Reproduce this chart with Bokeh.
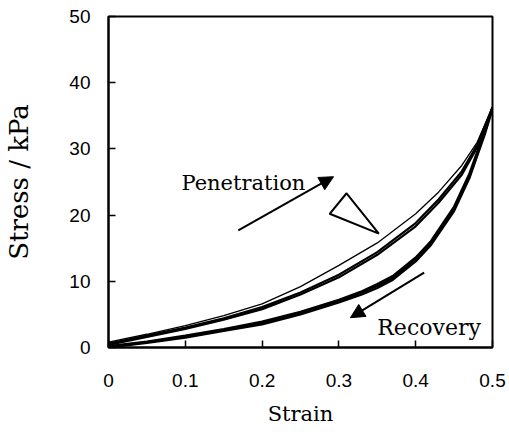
from bokeh.plotting import figure
from bokeh.models import Range1d, Label, Arrow, NormalHead, FixedTicker
from bokeh.embed import file_html
from bokeh.resources import INLINE

SERIF = "DejaVu Serif"

# Loading (penetration) curves
strain_load = [0, 0.05, 0.1, 0.15, 0.2, 0.25, 0.3, 0.35, 0.4, 0.43, 0.46, 0.48, 0.5]
stress_load1 = [0.8, 2.0, 3.3, 4.8, 6.6, 9.2, 12.4, 15.8, 20.2, 23.5, 27.5, 31.0, 36.3]
stress_load2 = [0.6, 1.8, 3.0, 4.4, 6.1, 8.3, 11.0, 14.4, 18.8, 22.4, 26.6, 30.6, 36.3]
stress_load3 = [0.4, 1.6, 2.8, 4.2, 5.8, 8.0, 10.6, 14.0, 18.3, 21.9, 26.1, 30.2, 36.1]

# Unloading (recovery) curves
strain_unload = [0.5, 0.49, 0.47, 0.45, 0.42, 0.4, 0.37, 0.35, 0.33, 0.3, 0.25, 0.2, 0.15, 0.1, 0.05, 0]
stress_unload1 = [36.3, 32.8, 26.3, 21.3, 16.1, 13.6, 10.8, 9.6, 8.5, 7.2, 5.4, 3.9, 2.8, 1.8, 0.9, 0.2]
stress_unload2 = [36.2, 32.5, 26.0, 21.0, 15.8, 13.3, 10.5, 9.3, 8.3, 7.0, 5.2, 3.7, 2.6, 1.6, 0.8, 0.1]
stress_unload3 = [36.0, 32.2, 25.6, 20.6, 15.5, 13.0, 10.2, 9.0, 8.0, 6.8, 5.0, 3.5, 2.5, 1.5, 0.7, 0.0]

x_ticks = [0, 0.1, 0.2, 0.3, 0.4, 0.5]
y_ticks = [0, 10, 20, 30, 40, 50]

# Annotation anchors (data units)
pen_arrow = [0.169, 17.7, 0.293, 25.8]
rec_arrow = [0.411, 11.3, 0.315, 4.5]
tri_x = [0.310, 0.288, 0.352]
tri_y = [23.3, 20.2, 17.2]
pen_label = (0.095, 24.9)
rec_label = (0.350, 3.0)

p = figure(width=509, height=432, output_backend="svg", toolbar_location=None,
           x_range=Range1d(0, 0.5), y_range=Range1d(0, 50),
           min_border_left=108, min_border_right=17, min_border_top=16, min_border_bottom=85)
p.background_fill_color = "white"
p.border_fill_color = "white"
p.outline_line_color = "black"
p.outline_line_width = 2
p.grid.visible = False

for ax in (p.xaxis[0], p.yaxis[0]):
    ax.axis_line_width = 2
    ax.major_tick_line_width = 1.5
    ax.major_tick_in = 7
    ax.major_tick_out = 0
    ax.minor_tick_line_color = None
    ax.major_label_text_font = "Liberation Sans"
    ax.major_label_text_font_size = "19px"
    ax.major_label_text_color = "black"
    ax.axis_label_text_font = SERIF
    ax.axis_label_text_font_style = "normal"
    ax.axis_label_text_color = "black"

p.xaxis.ticker = FixedTicker(ticks=x_ticks)
p.yaxis.ticker = FixedTicker(ticks=y_ticks)
p.xaxis.major_label_overrides = {0: "0", 0.1: "0.1", 0.2: "0.2", 0.3: "0.3", 0.4: "0.4", 0.5: "0.5"}
p.xaxis.major_label_standoff = 26
p.yaxis.major_label_standoff = 18
p.xaxis.axis_label = "Strain"
p.yaxis.axis_label = "Stress / kPa"
p.xaxis.axis_label_text_font_size = "21px"
p.yaxis.axis_label_text_font_size = "26px"
p.xaxis.axis_label_standoff = 12
p.yaxis.axis_label_standoff = 32

p.line(strain_load, stress_load1, line_color="black", line_width=1.3)
p.line(strain_load, stress_load2, line_color="black", line_width=2.2)
p.line(strain_load, stress_load3, line_color="black", line_width=2.2)
p.line(strain_unload, stress_unload1, line_color="black", line_width=2.2)
p.line(strain_unload, stress_unload2, line_color="black", line_width=2.2)
p.line(strain_unload, stress_unload3, line_color="black", line_width=2.2)

p.patch(tri_x, tri_y, fill_color=None, line_color="black", line_width=2)

p.add_layout(Arrow(end=NormalHead(size=14, fill_color="black", line_color="black"),
                   x_start=pen_arrow[0], y_start=pen_arrow[1], x_end=pen_arrow[2], y_end=pen_arrow[3],
                   line_width=2, line_color="black"))
p.add_layout(Arrow(end=NormalHead(size=14, fill_color="black", line_color="black"),
                   x_start=rec_arrow[0], y_start=rec_arrow[1], x_end=rec_arrow[2], y_end=rec_arrow[3],
                   line_width=2, line_color="black"))

p.add_layout(Label(x=pen_label[0], y=pen_label[1], text="Penetration", text_font=SERIF,
                   text_font_size="21px", text_color="black", text_baseline="alphabetic"))
p.add_layout(Label(x=rec_label[0], y=rec_label[1], text="Recovery", text_font=SERIF,
                   text_font_size="22px", text_color="black", text_baseline="alphabetic"))

open("out.html", "w").write(file_html(p, INLINE))
